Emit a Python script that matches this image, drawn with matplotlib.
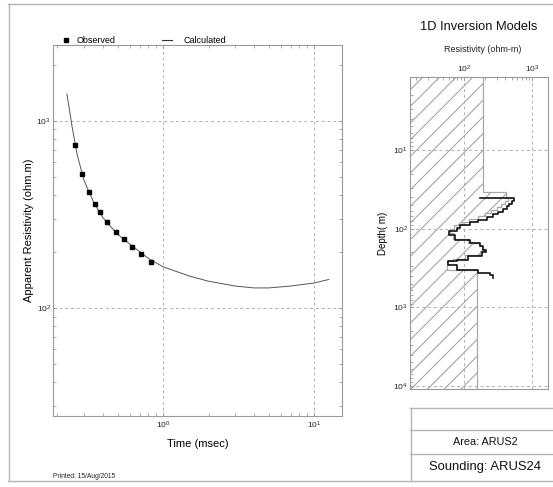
import numpy as np
import matplotlib
matplotlib.use("Agg")
import matplotlib.pyplot as plt
from matplotlib.lines import Line2D
from matplotlib.ticker import LogLocator, NullFormatter

plt.rcParams['font.family'] = ['Liberation Sans', 'DejaVu Sans']
plt.rcParams['mathtext.fontset'] = 'custom'
plt.rcParams['mathtext.rm'] = 'Liberation Sans'
plt.rcParams['mathtext.it'] = 'Liberation Sans'
plt.rcParams['hatch.color'] = '#9a9a9a'
plt.rcParams['hatch.linewidth'] = 0.7

# ---- sounding curve: observed apparent resistivity vs time ----
obs_time = [0.261, 0.291, 0.322, 0.353, 0.383, 0.426, 0.486, 0.549, 0.626, 0.718, 0.837]
obs_rho = [745, 521, 417, 359, 325, 287, 255, 233, 213, 195, 176]

calc_time = [0.231, 0.25, 0.27, 0.30, 0.35, 0.40, 0.45, 0.50, 0.60, 0.70, 0.80,
             1.0, 1.5, 2.0, 3.0, 4.0, 5.0, 7.0, 10.0, 12.5]
calc_rho = [1394, 930, 660, 480, 362, 304, 272, 248, 220, 200, 184,
            166, 148, 139, 131, 128, 128, 131, 136, 142]

# ---- 1D inversion models: layered resistivity vs depth ----
# thick black model: stub resistivity, layer interfaces (m), layer resistivities
blk_top_rho = 171
blk_depth = [40.7, 45, 48, 52, 56, 61, 66, 72, 77, 83, 89, 98, 108, 119, 141, 152,
             168, 185, 200, 225, 248, 260, 287, 332, 366, 384, 423]
blk_rho = [540, 499, 461, 421, 376, 318, 269, 215, 162, 122, 87, 78, 61, 74, 122,
           171, 192, 210, 181, 116, 78, 59, 78, 162, 240, 263]

# grey bounding model (hatched region)
gry_depth = [34, 41, 45, 49, 53, 58, 63, 69, 75, 82, 90, 100, 112, 135, 150, 165,
             180, 195, 215, 240, 255, 335]
gry_rho = [192, 408, 440, 400, 350, 300, 250, 205, 160, 120, 95, 72, 63, 68, 115,
           165, 185, 200, 170, 105, 70, 56, 153]

W, H = 553, 487
fig = plt.figure(figsize=(W / 100, H / 100), dpi=100)
fig.patch.set_facecolor('white')


def px_axes(x0, y0, x1, y1):
    return fig.add_axes([x0 / W, 1 - y1 / H, (x1 - x0) / W, (y1 - y0) / H])


SPINE = '#9a9a9a'
GRID = dict(color='#b0b0b0', linestyle=(0, (3, 3)), linewidth=0.7)


def style_axes(ax):
    for s in ax.spines.values():
        s.set_color(SPINE)
        s.set_linewidth(0.8)
    ax.tick_params(which='both', direction='in', colors=SPINE, labelcolor='#222222',
                   labelsize=6, width=0.6, pad=1.5)
    ax.tick_params(which='major', length=3)
    ax.tick_params(which='minor', length=2)


# ---------- left: sounding curve ----------
ax1 = px_axes(53, 45, 342, 416)
ax1.set_xscale('log')
ax1.set_yscale('log')
ax1.set_xlim(0.1868, 15.3)
ax1.set_ylim(26.45, 2547)
style_axes(ax1)
ax1.tick_params(which='both', top=True, right=True)
ax1.tick_params(axis='x', pad=2.5)
ax1.xaxis.set_major_locator(LogLocator(base=10))
ax1.yaxis.set_major_locator(LogLocator(base=10))
ax1.xaxis.set_minor_locator(LogLocator(base=10, subs=np.arange(2, 10)))
ax1.yaxis.set_minor_locator(LogLocator(base=10, subs=np.arange(2, 10)))
ax1.xaxis.set_minor_formatter(NullFormatter())
ax1.yaxis.set_minor_formatter(NullFormatter())
ax1.grid(True, which='major', **GRID)
ax1.set_axisbelow(True)

ax1.plot(calc_time, calc_rho, color='#555555', lw=0.7, zorder=3)
ax1.plot(obs_time, obs_rho, ls='none', marker='s', ms=2.8, color='black', zorder=4)
ax1.set_xlabel('Time (msec)', fontsize=8, labelpad=6)
ax1.set_ylabel('Apparent Resistivity (ohm.m)', fontsize=8, labelpad=2)

# legend entries, each placed above the plot frame
h_obs = Line2D([], [], ls='none', marker='s', ms=2.8, color='black')
h_calc = Line2D([], [], color='#333333', lw=0.8)
leg_kw = dict(frameon=False, loc='lower left', fontsize=6.5, borderaxespad=0,
              borderpad=0)
leg1 = ax1.legend([h_obs], ['Observed'], bbox_to_anchor=(0.030, 1.0),
                  handlelength=0.85, handletextpad=0.8, **leg_kw)
ax1.add_artist(leg1)
ax1.legend([h_calc], ['Calculated'], bbox_to_anchor=(0.376, 1.0),
           handlelength=1.15, handletextpad=1.25, **leg_kw)

fig.text(53 / W, 1 - 477 / H, 'Printed: 15/Aug/2015', fontsize=4.8, va='center',
         ha='left', color='#222222')

# ---------- right: 1D inversion models ----------
ax2 = px_axes(410, 77, 548, 389)
ax2.set_xscale('log')
ax2.set_yscale('log')
ax2.set_xlim(16.2, 1698)
ax2.set_ylim(10920, 1.18)
style_axes(ax2)
ax2.tick_params(which='both', top=True, bottom=False, labeltop=True, labelbottom=False,
                right=False)
ax2.xaxis.set_major_locator(LogLocator(base=10))
ax2.yaxis.set_major_locator(LogLocator(base=10))
ax2.xaxis.set_minor_locator(LogLocator(base=10, subs=np.arange(2, 10)))
ax2.yaxis.set_minor_locator(LogLocator(base=10, subs=np.arange(2, 10)))
ax2.xaxis.set_minor_formatter(NullFormatter())
ax2.yaxis.set_minor_formatter(NullFormatter())
ax2.grid(True, which='major', **GRID)

# grey bounding model + hatched region to its left
d_top, d_bot = 1.0, 20000.0
g_edges = np.concatenate([[d_top], gry_depth, [d_bot]])
gy = np.column_stack([g_edges[:-1], g_edges[1:]]).ravel()
gx = np.repeat(gry_rho, 2)
ax2.fill_betweenx(gy, 1.0, gx, facecolor='none', edgecolor='#9a9a9a',
                  hatch='//', linewidth=0, zorder=1)
ax2.plot(gx, gy, color='#a8a8a8', lw=0.9, zorder=2)

# black model as a step curve
b_edges = np.asarray(blk_depth, dtype=float)
by = np.concatenate([[b_edges[0]],
                     np.column_stack([b_edges[:-1], b_edges[1:]]).ravel()])
bx = np.concatenate([[blk_top_rho], np.repeat(blk_rho, 2)])
ax2.plot(bx, by, color='#111111', lw=1.2, zorder=3)

ax2.set_ylabel('Depth( m)', fontsize=7, labelpad=4)
fig.text(483 / W, 1 - 50 / H, 'Resistivity (ohm-m)', fontsize=6.5, ha='center',
         va='center', color='#222222')
fig.text(479 / W, 1 - 27 / H, '1D Inversion Models', fontsize=9.3, ha='center',
         va='center', color='#111111')

# ---------- page frame and info table ----------
FRAME = '#b4b4b4'


def hline(y, x0, x1):
    fig.add_artist(Line2D([x0 / W, x1 / W], [1 - y / H, 1 - y / H], color=FRAME, lw=1))


def vline(x, y0, y1):
    fig.add_artist(Line2D([x / W, x / W], [1 - y0 / H, 1 - y1 / H], color=FRAME, lw=1))


hline(3.5, 8, 553)
hline(481, 8, 553)
vline(8.5, 3.5, 481)
hline(407.5, 410, 553)
hline(430, 410, 553)
hline(453.5, 410, 553)
vline(410.5, 407.5, 481)

fig.text(485 / W, 1 - 442 / H, 'Area: ARUS2', fontsize=7.8, ha='center', va='center',
         color='#111111')
fig.text(485 / W, 1 - 467 / H, 'Sounding: ARUS24', fontsize=9.4, ha='center',
         va='center', color='#111111')

fig.savefig('out.png', dpi=100, facecolor='white')
